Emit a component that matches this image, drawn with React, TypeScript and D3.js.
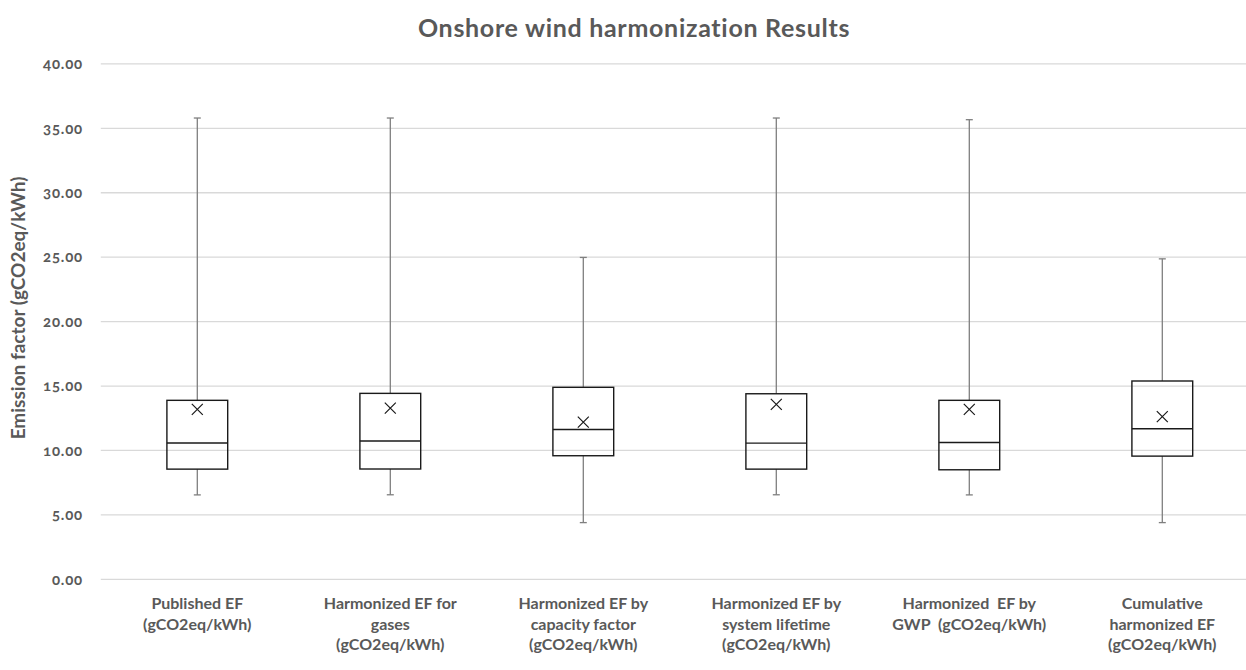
import React, { useRef, useEffect } from "react";
import * as d3 from "d3";

// category labels, already broken into the lines shown under each box
const categories: string[][] = [
  ["Published EF", "(gCO2eq/kWh)"],
  ["Harmonized EF for", "gases", "(gCO2eq/kWh)"],
  ["Harmonized EF by", "capacity factor", "(gCO2eq/kWh)"],
  ["Harmonized EF by", "system lifetime", "(gCO2eq/kWh)"],
  ["Harmonized  EF by", "GWP  (gCO2eq/kWh)"],
  ["Cumulative", "harmonized EF", "(gCO2eq/kWh)"],
];

// box statistics
const mins = [6.55, 6.56, 4.4, 6.56, 6.55, 4.4];
const q1s = [8.55, 8.56, 9.59, 8.55, 8.5, 9.56];
const medians = [10.58, 10.73, 11.63, 10.57, 10.62, 11.68];
const q3s = [13.89, 14.43, 14.9, 14.4, 13.89, 15.39];
const maxs = [35.8, 35.8, 24.98, 35.8, 35.67, 24.87];
const means = [13.19, 13.29, 12.2, 13.57, 13.19, 12.62];

const yTicks = [0, 5, 10, 15, 20, 25, 30, 35, 40];

const W = 1246;
const H = 670;
const TEXT = "#595959";
const FONT = "Lato, 'Open Sans', sans-serif";

export default function App() {
  const svgRef = useRef(null);

  useEffect(() => {
    const svg = d3.select(svgRef.current);
    svg.selectAll("*").remove();

    const plot = { left: 100.8, right: 1258.8, top: 63.9, bottom: 579.3 };
    const keys = categories.map((c, i) => String(i));

    const x = d3.scaleBand().domain(keys).range([plot.left, plot.right]).padding(0);
    const y = d3.scaleLinear().domain([0, 40]).range([plot.bottom, plot.top]);
    const boxW = x.bandwidth() * 0.315;
    const cx = (i: number) => (x(String(i)) as number) + x.bandwidth() / 2;

    // title
    svg
      .append("text")
      .attr("x", 634)
      .attr("y", 37)
      .attr("text-anchor", "middle")
      .attr("font-family", FONT)
      .attr("font-weight", 700)
      .attr("font-size", 25)
      .attr("letter-spacing", 0.7)
      .attr("fill", TEXT)
      .text("Onshore wind harmonization Results");

    // grid + y labels
    const grid = svg.append("g");
    grid
      .selectAll("line")
      .data(yTicks)
      .join("line")
      .attr("x1", plot.left)
      .attr("x2", plot.right)
      .attr("y1", (d) => y(d))
      .attr("y2", (d) => y(d))
      .attr("stroke", "#d9d9d9")
      .attr("stroke-width", 1.3);

    grid
      .selectAll("text")
      .data(yTicks)
      .join("text")
      .attr("x", 83)
      .attr("y", (d) => y(d))
      .attr("dy", "0.35em")
      .attr("text-anchor", "end")
      .attr("font-family", FONT)
      .attr("font-weight", 700)
      .attr("font-size", 15)
      .attr("letter-spacing", 0.8)
      .attr("fill", TEXT)
      .style("font-variant-numeric", "oldstyle-nums")
      .text((d) => d3.format(".2f")(d));

    // y axis title
    svg
      .append("text")
      .attr("transform", `translate(25,308) rotate(-90)`)
      .attr("text-anchor", "middle")
      .attr("font-family", FONT)
      .attr("font-weight", 700)
      .attr("font-size", 19)
      .attr("fill", TEXT)
      .text("Emission factor (gCO2eq/kWh)");

    // boxes
    const boxes = svg
      .append("g")
      .selectAll("g")
      .data(categories)
      .join("g");

    boxes
      .append("line")
      .attr("x1", (d, i) => cx(i))
      .attr("x2", (d, i) => cx(i))
      .attr("y1", (d, i) => y(maxs[i]))
      .attr("y2", (d, i) => y(q3s[i]))
      .attr("stroke", "#7f7f7f")
      .attr("stroke-width", 1.3);

    boxes
      .append("line")
      .attr("x1", (d, i) => cx(i))
      .attr("x2", (d, i) => cx(i))
      .attr("y1", (d, i) => y(q1s[i]))
      .attr("y2", (d, i) => y(mins[i]))
      .attr("stroke", "#7f7f7f")
      .attr("stroke-width", 1.3);

    // whisker caps
    [maxs, mins].forEach((arr) => {
      boxes
        .append("line")
        .attr("x1", (d, i) => cx(i) - 3.5)
        .attr("x2", (d, i) => cx(i) + 3.5)
        .attr("y1", (d, i) => y(arr[i]))
        .attr("y2", (d, i) => y(arr[i]))
        .attr("stroke", "#7f7f7f")
        .attr("stroke-width", 1.3);
    });

    boxes
      .append("rect")
      .attr("x", (d, i) => cx(i) - boxW / 2)
      .attr("width", boxW)
      .attr("y", (d, i) => y(q3s[i]))
      .attr("height", (d, i) => y(q1s[i]) - y(q3s[i]))
      .attr("fill", "none")
      .attr("stroke", "#1a1a1a")
      .attr("stroke-width", 1.4);

    boxes
      .append("line")
      .attr("x1", (d, i) => cx(i) - boxW / 2)
      .attr("x2", (d, i) => cx(i) + boxW / 2)
      .attr("y1", (d, i) => y(medians[i]))
      .attr("y2", (d, i) => y(medians[i]))
      .attr("stroke", "#1a1a1a")
      .attr("stroke-width", 1.4);

    // mean markers
    const s = 5.5;
    boxes
      .append("path")
      .attr(
        "d",
        (d, i) => {
          const px = cx(i);
          const py = y(means[i]);
          return `M${px - s},${py - s}L${px + s},${py + s}M${px - s},${py + s}L${px + s},${py - s}`;
        }
      )
      .attr("stroke", "#1a1a1a")
      .attr("stroke-width", 1.2);

    // category labels
    boxes
      .append("text")
      .attr("text-anchor", "middle")
      .attr("font-family", FONT)
      .attr("font-weight", 700)
      .attr("font-size", 16)
      .attr("fill", TEXT)
      .selectAll("tspan")
      .data((d, i) => d.map((line) => ({ line, i })))
      .join("tspan")
      .attr("x", (d) => cx(d.i))
      .attr("y", (d, j) => 609 + j * 20.5)
      .attr("xml:space", "preserve")
      .style("white-space", "pre")
      .text((d) => d.line);
  }, []);

  return (
    <svg
      ref={svgRef}
      width={W}
      height={H}
      style={{ position: "absolute", left: 0, top: 0, background: "#fff" }}
    ></svg>
  );
}
